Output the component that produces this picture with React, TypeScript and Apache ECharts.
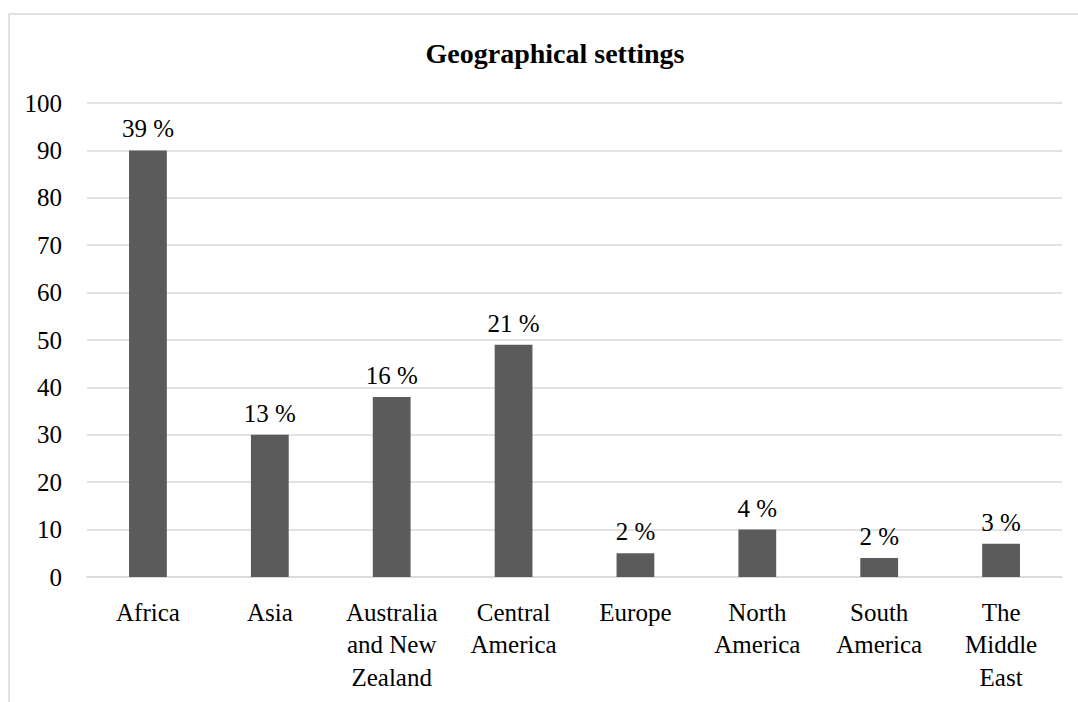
import React, { useEffect, useRef } from "react";
import * as echarts from "echarts";

const categories = [
  "Africa",
  "Asia",
  "Australia\nand New\nZealand",
  "Central\nAmerica",
  "Europe",
  "North\nAmerica",
  "South\nAmerica",
  "The\nMiddle\nEast",
];
const values = [90, 30, 38, 49, 5, 10, 4, 7];
const percentLabels = ["39 %", "13 %", "16 %", "21 %", "2 %", "4 %", "2 %", "3 %"];
const titleText = "Geographical settings";

const FONT = "Liberation Serif";

export default function App() {
  const ref = useRef<HTMLDivElement>(null);
  useEffect(() => {
    if (!ref.current) return;
    const chart = echarts.init(ref.current, null, { renderer: "svg" });
    chart.setOption({
      animation: false,
      backgroundColor: "#ffffff",
      textStyle: { fontFamily: FONT },
      title: {
        text: titleText,
        left: 550,
        textAlign: "center",
        top: 34,
        textStyle: { fontFamily: FONT, fontSize: 28, fontWeight: "bold", color: "#000" },
      },
      graphic: [
        {
          type: "rect",
          shape: { x: 9, y: 14, width: 1200, height: 900 },
          style: { fill: "none", stroke: "#d9d9d9", lineWidth: 1.5 },
          silent: true,
        },
      ],
      grid: { left: 87, right: 16, top: 103, bottom: 125 },
      xAxis: {
        type: "category",
        data: categories,
        axisTick: { show: false },
        axisLine: { lineStyle: { color: "#d9d9d9", width: 1.5 } },
        axisLabel: {
          interval: 0,
          margin: 19,
          fontFamily: FONT,
          fontSize: 25,
          color: "#000",
          lineHeight: 32.5,
          verticalAlign: "top",
        },
      },
      yAxis: {
        type: "value",
        min: 0,
        max: 100,
        interval: 10,
        axisLine: { show: false },
        axisTick: { show: false },
        splitLine: { lineStyle: { color: "#d9d9d9", width: 1.5 } },
        axisLabel: { margin: 25, fontFamily: FONT, fontSize: 25, color: "#000" },
      },
      series: [
        {
          type: "bar",
          data: values,
          barWidth: "31%",
          itemStyle: { color: "#5b5b5b" },
          label: {
            show: true,
            position: "top",
            distance: 9,
            fontFamily: FONT,
            fontSize: 25,
            color: "#000",
            formatter: (p: any) => percentLabels[p.dataIndex],
          },
        },
      ],
    });
    return () => chart.dispose();
  }, []);
  return (
    <div
      ref={ref}
      style={{ position: "fixed", left: 0, top: 0, width: 1078, height: 702, background: "#fff" }}
    />
  );
}
